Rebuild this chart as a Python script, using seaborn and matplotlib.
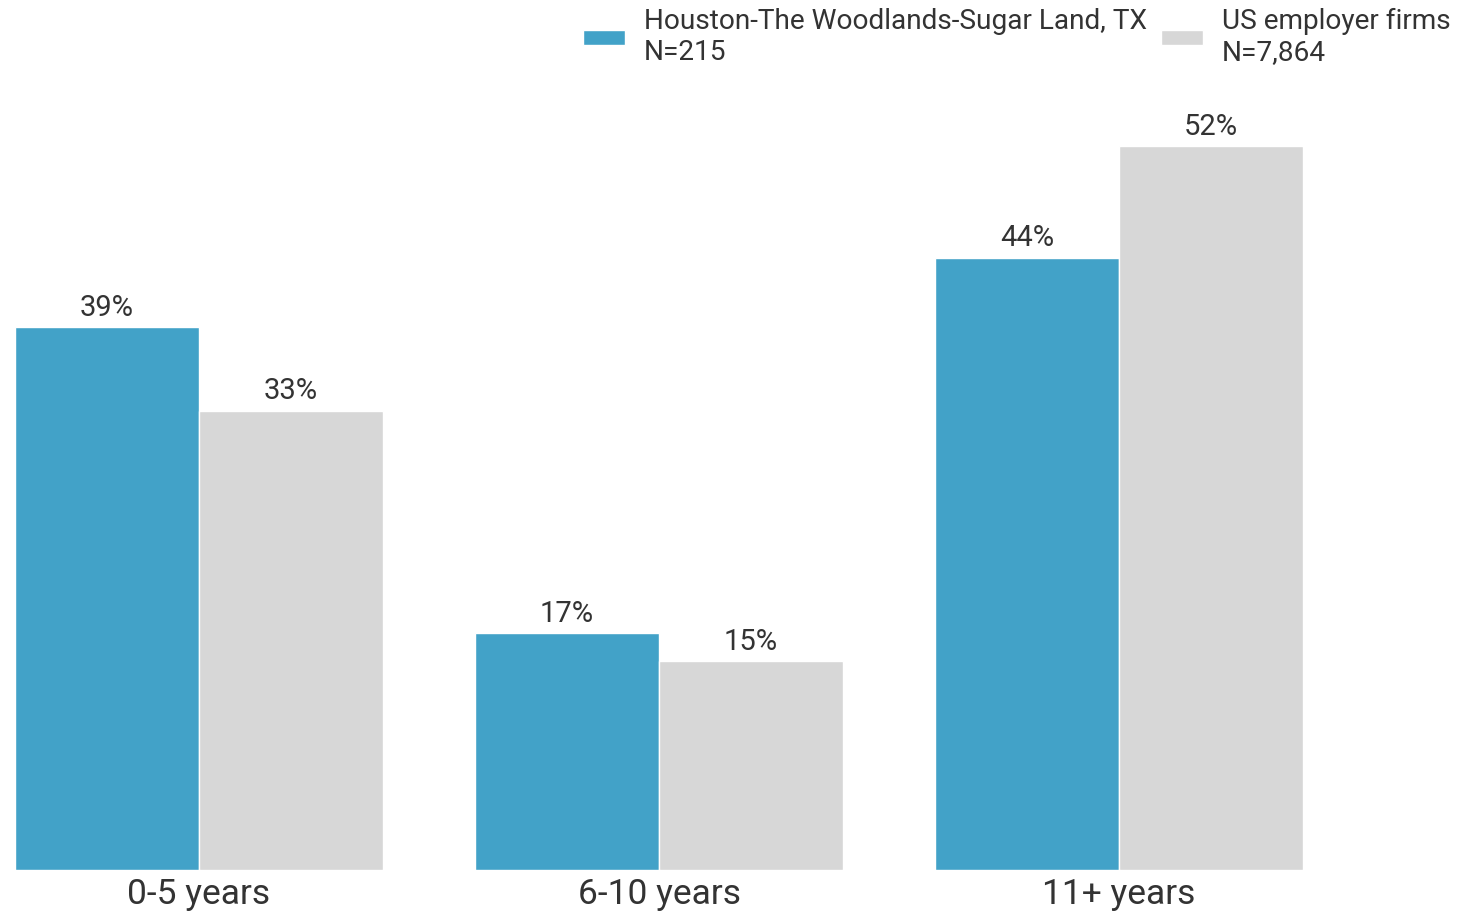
import pandas as pd
import seaborn as sns
import matplotlib.pyplot as plt

# Data
categories = ["0-5 years", "6-10 years", "11+ years"]
houston = [39, 17, 44]
us_firms = [33, 15, 52]
series_names = ["Houston-The Woodlands-Sugar Land, TX\nN=215", "US employer firms\nN=7,864"]

df = pd.DataFrame({
    "Age": categories * 2,
    "Share": houston + us_firms,
    "Group": [series_names[0]] * 3 + [series_names[1]] * 3,
})

sns.set_style("white")
plt.rcParams["font.family"] = ["Roboto", "DejaVu Sans"]

fig = plt.figure(figsize=(14.6, 9.14), dpi=100)
ax = fig.add_axes([15 / 1460, 1 - 870 / 914, 1288 / 1460, (870 - 104.4) / 914])

sns.barplot(
    data=df,
    x="Age",
    y="Share",
    hue="Group",
    palette=["#42A2C8", "#D7D7D7"],
    width=0.8,
    saturation=1,
    ax=ax,
)

for container in ax.containers:
    ax.bar_label(container, fmt="%d%%", padding=4, fontsize=21, color="#333333")

ax.set_xlim(-0.4, 2.4)
ax.set_ylim(0, 55)
ax.set_xlabel("")
ax.set_ylabel("")
ax.set_yticks([])
ax.tick_params(axis="x", length=0, labelsize=25.5, colors="#333333", pad=6)
sns.despine(ax=ax, left=True, bottom=True)

handles, labels = ax.get_legend_handles_labels()
ax.get_legend().remove()
fig.legend(
    handles, labels,
    loc="upper right",
    bbox_to_anchor=(1.011, 1.019),
    ncol=2,
    frameon=False,
    fontsize=20.2,
    handlelength=1.5,
    handleheight=0.45,
    handletextpad=0.68,
    columnspacing=0.5,
    labelspacing=0.2,
    labelcolor="#333333",
)

fig.savefig("out.png", dpi=100)
